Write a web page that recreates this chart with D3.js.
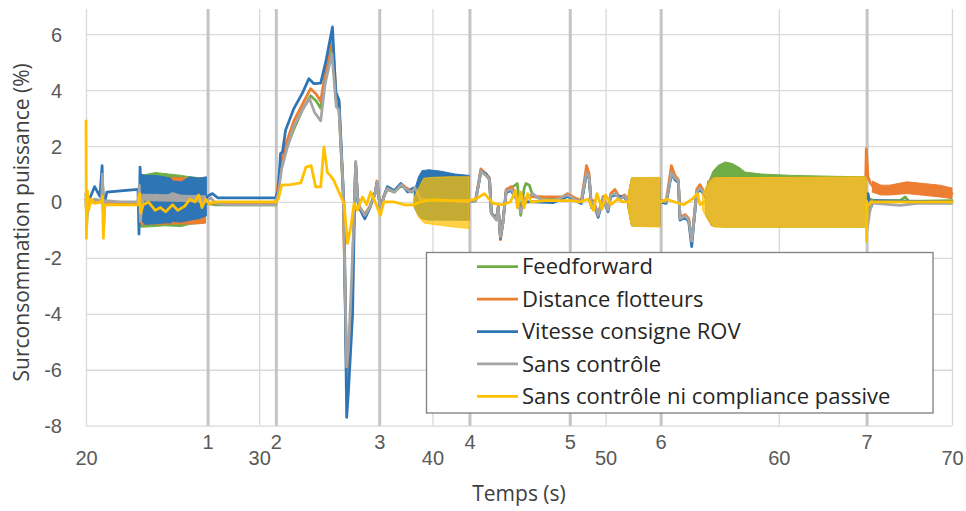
<!DOCTYPE html>
<html><head><meta charset="utf-8">
<script src="https://cdn.jsdelivr.net/npm/d3@7"></script>
<style>
html,body{margin:0;padding:0;background:#fff;}
svg{display:block;font-family:"Open Sans","Noto Sans",sans-serif;}
</style></head>
<body>
<svg id="chart" width="966" height="511"></svg>
<script>
// ---------- data ----------
const xTicks = [20, 30, 40, 50, 60, 70];
const yTicks = [-8, -6, -4, -2, 0, 2, 4, 6];
const eventTimes = [27.02, 30.96, 36.93, 42.14, 47.93, 53.18, 65.07];
const eventLabels = ["1", "2", "3", "4", "5", "6", "7"];
const seriesNames = ["Feedforward", "Distance flotteurs", "Vitesse consigne ROV", "Sans contrôle", "Sans contrôle ni compliance passive"];
const seriesColors = ["#70ad47", "#ed7d31", "#2e75b6", "#a5a5a5", "#ffc000"];

// Feedforward
const ffLine = [[20,0.3],[20.04,-0.9],[20.1,0.2],[20.3,0.0],[20.9,0.0],[20.95,0.8],[21.02,-0.4],[21.1,0.0],[23.0,-0.05],[23.08,0.4],[23.14,-0.4],[23.3,0.0],[26.95,-0.05],[27.5,-0.1],[30.95,-0.1],[31.2,1.0],[31.5,1.8],[32.0,2.6],[32.5,3.3],[32.97,3.8],[33.3,3.6],[33.55,3.35],[33.84,4.5],[34.2,5.6],[34.45,3.6],[34.6,3.4],[34.85,0.3],[35.05,-6.0],[35.2,-5.0],[35.35,-3.4],[35.48,-0.4],[35.57,1.4],[35.67,0.2],[35.8,-0.2],[36.1,-0.45],[36.4,-0.15],[36.7,0.3],[36.8,0.7],[37.0,-0.25],[37.2,0.2],[37.4,0.45],[37.8,0.35],[38.2,0.6],[38.5,0.45],[38.8,0.35],[39.0,0.45],[39.3,0.1],[42.1,0.0],[42.5,0.05],[42.8,1.1],[43.1,0.95],[43.3,0.8],[43.4,-0.4],[43.7,-0.6],[43.8,-0.2],[43.93,-1.2],[44.07,-0.7],[44.26,0.4],[44.55,0.5],[44.9,0.66],[45.0,0.1],[45.1,-0.48],[45.3,0.5],[45.4,0.66],[45.6,0.6],[45.8,0.2],[46.5,0.1],[47.5,0.1],[47.8,0.25],[48.2,0.1],[48.6,0.0],[48.9,1.05],[49.05,0.9],[49.18,-0.18],[49.3,0.0],[49.57,-0.45],[49.86,0.15],[50.14,-0.3],[50.3,0.25],[50.6,0.3],[50.8,0.1],[51.1,0.2],[51.3,0.0],[53.14,0.0],[53.5,0.0],[53.8,1.05],[54.0,0.85],[54.2,0.75],[54.3,-0.6],[54.6,-0.5],[54.8,-0.65],[54.97,-1.4],[55.07,-0.85],[55.26,0.35],[55.45,0.5],[55.65,0.35],[55.84,0.3],[55.94,0.72],[56.1,0.0],[65.0,0.0],[65.1,-0.5],[65.25,0.1],[65.5,0.05],[67,0.05],[67.3,0.18],[67.5,0.02],[70,0.05]];
const ffBand = [
  [[23.15,-0.9,0.95],[24,-0.88,1.05],[24.5,-0.85,1.02],[25.5,-0.88,0.95],[26,-0.8,0.9],[26.9,-0.75,0.85]],
  [[39.0,-0.2,0.3],[39.4,-0.6,1.0],[42.1,-0.65,0.9]],
  [[51.3,-0.2,0.2],[51.5,-0.85,0.85],[53.14,-0.85,0.85]],
  [[55.8,-0.3,0.5],[55.94,-0.6,0.72],[56.2,-0.8,1.1],[56.5,-0.88,1.31],[56.9,-0.9,1.43],[57.3,-0.9,1.38],[57.68,-0.9,1.25],[58.06,-0.9,1.07],[59,-0.9,1.0],[60.76,-0.9,0.95],[63,-0.9,0.92],[65.05,-0.9,0.9]]
];

// Distance flotteurs
const dfLine = [[20,0.1],[20.04,-0.5],[20.1,0.2],[20.3,0.0],[20.9,0.0],[20.95,0.9],[21.02,-0.5],[21.1,0.0],[23.0,-0.05],[23.08,0.5],[23.14,-0.5],[23.3,0.0],[25,0.0],[26.95,-0.05],[27.5,-0.05],[30.95,-0.05],[31.2,1.2],[31.5,2.0],[32.0,2.9],[32.5,3.5],[32.97,4.05],[33.3,3.85],[33.55,3.6],[33.84,4.7],[34.2,6.0],[34.45,3.8],[34.6,3.6],[34.85,0.3],[35.05,-6.5],[35.2,-5.0],[35.35,-3.5],[35.48,-0.4],[35.57,1.4],[35.67,0.2],[35.8,-0.2],[36.1,-0.45],[36.4,-0.15],[36.7,0.35],[36.8,0.75],[37.0,-0.25],[37.2,0.2],[37.4,0.5],[37.8,0.4],[38.2,0.65],[38.5,0.5],[38.8,0.4],[39.0,0.5],[39.3,0.1],[42.1,0.0],[42.5,0.1],[42.8,1.18],[43.1,1.0],[43.3,0.85],[43.4,-0.4],[43.7,-0.6],[43.8,-0.15],[43.93,-1.35],[44.07,-0.75],[44.26,0.45],[44.55,0.55],[44.9,0.2],[45.1,-0.3],[45.4,0.15],[45.8,0.2],[46.5,0.18],[47.5,0.18],[47.8,0.3],[48.2,0.15],[48.6,0.05],[48.9,1.3],[49.05,1.0],[49.18,-0.15],[49.3,0.05],[49.57,-0.45],[49.86,0.2],[50.14,-0.25],[50.3,0.3],[50.54,0.45],[50.8,0.15],[51.1,0.25],[51.3,0.0],[53.14,0.0],[53.5,0.05],[53.8,1.3],[54.0,0.95],[54.2,0.8],[54.3,-0.55],[54.6,-0.45],[54.8,-0.6],[54.97,-1.35],[55.07,-0.8],[55.26,0.45],[55.45,0.62],[55.65,0.4],[55.84,0.25],[56.0,0.0],[65.0,0.2],[65.05,1.9],[65.15,0.9],[65.3,0.66],[65.5,0.5],[66,0.42],[67,0.5],[68,0.45],[69,0.4],[70,0.3]];
const dfBand = [
  [[23.15,-0.8,0.9],[26.5,-0.78,0.85],[26.9,-0.75,0.8]],
  [[39.0,-0.2,0.3],[39.4,-0.6,1.0],[42.1,-0.65,0.9]],
  [[51.3,-0.2,0.2],[51.5,-0.85,0.85],[53.14,-0.85,0.85]],
  [[55.8,-0.4,0.5],[56.1,-0.85,0.85],[65.05,-0.88,0.88]],
  [[65.4,0.35,0.75],[65.9,0.25,0.6],[66.4,0.25,0.6],[67.4,0.3,0.72],[68.35,0.24,0.66],[69.3,0.18,0.6],[70,0.12,0.5]]
];

// Vitesse consigne ROV
const vcLine = [[20,0.25],[20.2,0.1],[20.5,0.55],[20.8,0.2],[20.93,1.3],[21.0,-0.3],[21.2,0.35],[22,0.4],[23.0,0.45],[23.06,-1.15],[23.12,1.25],[23.2,0.3],[24,0.1],[25,0.05],[26,0.1],[26.95,0.1],[27.0,0.2],[27.3,0.3],[27.6,0.15],[30.95,0.15],[31.1,0.4],[31.23,1.73],[31.35,1.8],[31.52,2.56],[32.0,3.34],[32.5,3.9],[32.87,4.41],[33.16,4.23],[33.55,4.25],[33.84,5.0],[34.23,6.26],[34.42,3.93],[34.61,3.64],[34.9,-0.18],[35.05,-7.7],[35.15,-6.8],[35.39,-4.05],[35.5,-0.3],[35.57,1.3],[35.7,0.0],[35.85,-0.3],[36.1,-0.6],[36.4,-0.2],[36.7,0.35],[36.8,0.7],[37.0,-0.3],[37.2,0.2],[37.4,0.55],[37.8,0.4],[38.18,0.66],[38.57,0.36],[38.9,0.5],[39.3,0.2],[40,0.1],[42.1,0.0],[42.5,0.05],[42.8,1.1],[43.1,1.0],[43.3,0.8],[43.4,-0.4],[43.7,-0.6],[43.8,-0.2],[43.93,-1.3],[44.07,-0.75],[44.26,0.35],[44.55,0.4],[44.9,0.05],[45.1,-0.3],[45.4,0.0],[45.8,0.0],[47,-0.02],[47.8,0.2],[48.2,0.05],[48.6,-0.05],[48.9,1.0],[49.05,0.85],[49.18,-0.2],[49.3,-0.05],[49.57,-0.55],[49.86,0.1],[50.14,-0.35],[50.3,0.2],[50.6,0.25],[51.1,0.15],[51.3,0.0],[53.14,0.0],[53.5,-0.05],[53.8,1.0],[54.0,0.8],[54.2,0.7],[54.3,-0.65],[54.6,-0.55],[54.8,-0.7],[54.97,-1.6],[55.07,-0.9],[55.26,0.3],[55.45,0.45],[55.65,0.3],[55.84,0.1],[55.9,-0.3],[56.0,0.3],[56.1,0.0],[65.0,0.0],[65.15,0.3],[65.3,-0.2],[65.5,0.05],[70,0.0]];
const vcBand = [
  [[23.15,-0.6,1.0],[23.4,-0.8,0.95],[24,-0.78,0.95],[24.5,-0.75,0.9],[24.9,-0.75,0.85],[25.0,-0.7,0.75],[25.5,-0.72,0.72],[26.0,-0.65,0.9],[26.5,-0.6,0.85],[26.95,-0.5,0.9]],
  [[38.95,-0.2,0.4],[39.2,-0.5,0.9],[39.4,-0.6,1.12],[39.8,-0.65,1.15],[40.5,-0.65,1.1],[41.3,-0.65,1.0],[42.12,-0.65,0.95]],
  [[51.3,-0.2,0.2],[51.5,-0.85,0.85],[53.14,-0.86,0.86]],
  [[55.8,-0.5,0.4],[56.1,-0.8,0.8],[65.05,-0.88,0.88]]
];

// Sans contrôle
const scLine = [[20,0.1],[20.04,-0.7],[20.1,0.25],[20.25,0.0],[20.5,0.1],[20.9,0.05],[20.95,1.0],[21.02,-0.9],[21.1,0.05],[22,0.0],[23.0,0.0],[23.08,0.6],[23.14,-0.7],[23.3,0.15],[23.6,0.2],[24,0.25],[24.5,0.15],[25,0.3],[25.5,0.2],[26,0.15],[26.5,0.05],[26.9,0.0],[27.2,0.15],[27.5,-0.05],[28,-0.1],[30.9,-0.1],[31.1,0.3],[31.3,1.2],[31.6,1.9],[32.0,2.7],[32.5,3.3],[32.9,3.7],[33.2,3.2],[33.55,2.9],[33.8,4.2],[34.2,5.3],[34.45,3.4],[34.6,3.3],[34.85,0.5],[35.05,-5.9],[35.15,-5.3],[35.3,-3.3],[35.48,-0.4],[35.57,1.45],[35.67,0.18],[35.8,-0.18],[36.1,-0.48],[36.4,-0.18],[36.7,0.3],[36.8,0.72],[37.0,-0.3],[37.2,0.18],[37.4,0.48],[37.8,0.36],[38.2,0.62],[38.5,0.45],[38.8,0.36],[39.0,0.5],[39.3,0.1],[40,0.05],[41,0.05],[42.1,0.0],[42.5,0.06],[42.8,1.1],[43.1,0.95],[43.3,0.8],[43.4,-0.42],[43.7,-0.65],[43.8,-0.2],[43.93,-1.25],[44.07,-0.77],[44.26,0.4],[44.55,0.45],[44.9,0.1],[45.1,-0.36],[45.4,0.1],[45.8,0.3],[46.2,0.1],[47.0,0.05],[47.8,0.25],[48.2,0.1],[48.6,0.0],[48.9,1.05],[49.05,0.9],[49.18,-0.18],[49.3,0.0],[49.57,-0.48],[49.86,0.15],[50.14,-0.3],[50.3,0.25],[50.6,0.3],[50.8,0.1],[51.1,0.2],[51.3,0.0],[53.14,0.0],[53.24,0.06],[53.5,0.0],[53.8,1.05],[54.0,0.85],[54.2,0.75],[54.3,-0.6],[54.6,-0.5],[54.8,-0.65],[54.97,-1.4],[55.07,-0.85],[55.26,0.35],[55.45,0.5],[55.65,0.35],[55.84,0.2],[56,0.0],[65.0,0.0],[65.1,-1.0],[65.25,-0.36],[65.4,0.0],[65.6,-0.05],[67,-0.12],[68,-0.05],[70,-0.05]];
const scBand = [
  [[23.2,0.05,0.28],[26.9,0.0,0.22]],
  [[51.3,-0.2,0.2],[51.5,-0.85,0.85],[53.14,-0.88,0.87]],
  [[55.8,-0.4,0.4],[56.2,-0.88,0.86],[65.05,-0.88,0.88]]
];

// Sans contrôle ni compliance passive (null = gap in the line, where the band stands for it)
const ncLine = [[20,2.9],[20.02,-1.3],[20.08,0.4],[20.15,-0.3],[20.3,0.1],[20.5,-0.05],[20.9,0.0],[20.95,0.2],[21.0,-1.3],[21.08,-0.1],[22,-0.1],[23.0,-0.1],[23.1,0.3],[23.15,-0.4],[23.3,-0.1],[23.6,0.0],[24.0,-0.3],[24.3,-0.2],[24.6,-0.35],[25.0,-0.1],[25.3,-0.3],[25.7,-0.15],[26.0,0.1],[26.3,0.0],[26.5,0.25],[26.7,-0.2],[26.9,0.1],[27.1,-0.05],[27.5,0.0],[30.95,0.0],[31.1,0.1],[31.3,0.6],[31.8,0.62],[32.4,0.68],[32.7,1.25],[33.0,1.3],[33.26,0.54],[33.55,0.54],[33.74,1.97],[33.94,1.05],[34.1,0.95],[34.3,0.78],[34.6,0.36],[34.9,-0.05],[35.1,-1.48],[35.29,-0.89],[35.48,-0.05],[35.67,-0.3],[35.96,0.18],[36.2,-0.1],[36.44,0.36],[36.73,-0.05],[37.0,-0.48],[37.2,0.0],[37.8,0.0],[38.37,-0.1],[38.9,-0.1],[39.3,0.0],[40,0.08],[41,0.05],[42.1,0.05],[42.5,0.1],[43.0,0.3],[43.5,-0.05],[44,-0.1],[44.5,0.0],[44.8,0.4],[44.9,-0.2],[45.1,0.35],[45.3,-0.2],[45.5,0.3],[45.7,0.0],[46.5,0.05],[48,0.05],[48.5,0.0],[49,0.1],[49.3,-0.3],[49.5,0.3],[49.8,-0.25],[50.0,0.25],[50.3,-0.1],[50.7,0.1],[51.0,0.0],[51.35,0.0],[51.4,null],[53.1,null],[53.2,0.0],[53.5,0.1],[54,0.0],[54.5,-0.1],[55.0,0.1],[55.3,0.3],[55.45,-0.1],[55.7,0.0],[55.75,null],[65.0,null],[65.05,0.0],[65.07,-1.4],[65.1,-0.2],[65.3,0.0],[70,0.0]];
const ncBand = [
  [[38.9,-0.1,0.1],[39.2,-0.55,0.5],[39.5,-0.75,0.85],[40,-0.8,0.88],[41,-0.88,0.9],[42.12,-0.95,0.9]],
  [[51.3,-0.3,0.3],[51.5,-0.87,0.87],[53.14,-0.9,0.88]],
  [[55.6,-0.3,0.3],[56.0,-0.75,0.75],[56.3,-0.9,0.87],[60,-0.9,0.88],[65.05,-0.9,0.9]]
];

const lines = [ffLine, dfLine, vcLine, scLine, ncLine];
const bands = [ffBand, dfBand, vcBand, scBand, ncBand];

// ---------- chart ----------
(function () {
const svg = d3.select("#chart");
const pLeft = 86, pRight = 952, pTop = 9, pBottom = 425.7;
const x = d3.scaleLinear().domain([20, 70]).range([pLeft, pRight]);
const y = d3.scaleLinear().domain([-8, 6.9]).range([pBottom, pTop]);

// horizontal gridlines + y labels
const gy = svg.append("g").attr("transform", `translate(${pLeft},0)`)
  .call(d3.axisLeft(y).tickValues(yTicks).tickSize(-(pRight - pLeft)).tickPadding(24).tickFormat(d => d));
gy.select(".domain").remove();
gy.selectAll("line").attr("stroke", "#d9d9d9").attr("stroke-width", 1.3);
gy.selectAll("text").attr("fill", "#595959").attr("font-size", 20).attr("dy", "0.35em");

// vertical gridlines + x labels
const gx = svg.append("g").attr("transform", `translate(0,${pBottom})`)
  .call(d3.axisBottom(x).tickValues(xTicks).tickSize(-(pBottom - pTop)).tickPadding(0).tickFormat(d => d));
gx.select(".domain").remove();
gx.selectAll("line").attr("stroke", "#d9d9d9").attr("stroke-width", 1.3);
gx.selectAll("text").attr("fill", "#595959").attr("font-size", 20).attr("dy", null).attr("y", 39.5);

// event lines + labels
const ge = svg.append("g").attr("transform", `translate(0,${pBottom})`)
  .call(d3.axisBottom(x).tickValues(eventTimes).tickSize(-(pBottom - pTop)).tickPadding(0).tickFormat((d, i) => eventLabels[i]));
ge.select(".domain").remove();
ge.selectAll("line").attr("stroke", "#c4c4c4").attr("stroke-width", 3);
ge.selectAll("text").attr("fill", "#595959").attr("font-size", 20).attr("dy", null).attr("y", 23.5);

// series
const lineGen = d3.line().defined(d => d[1] !== null).x(d => x(d[0])).y(d => y(d[1]));
const areaGen = d3.area().x(d => x(d[0])).y0(d => y(d[1])).y1(d => y(d[2]));
const gs = svg.append("g");
seriesNames.forEach((name, i) => {
  const g = gs.append("g");
  g.selectAll("path.band").data(bands[i]).enter().append("path")
    .attr("class", "band").attr("d", areaGen)
    .attr("fill", seriesColors[i]).attr("fill-opacity", i === 4 ? 0.72 : 1)
    .attr("stroke", seriesColors[i]).attr("stroke-opacity", i === 4 ? 0.72 : 1).attr("stroke-width", 1);
  g.append("path").datum(lines[i]).attr("d", lineGen)
    .attr("fill", "none").attr("stroke", seriesColors[i])
    .attr("stroke-width", 2.75).attr("stroke-linejoin", "round").attr("stroke-linecap", "round");
});

// axis titles
svg.append("text").attr("x", (pLeft + pRight) / 2).attr("y", 501).attr("text-anchor", "middle")
  .attr("font-size", 21).attr("fill", "#404040").text("Temps (s)");
svg.append("text").attr("transform", `translate(29,${(pTop + pBottom) / 2 + 5}) rotate(-90)`)
  .attr("text-anchor", "middle").attr("font-size", 21).attr("fill", "#404040").text("Surconsommation puissance (%)");

// legend
const lg = svg.append("g");
lg.append("rect").attr("x", 426.5).attr("y", 252.5).attr("width", 506.5).attr("height", 160.5)
  .attr("fill", "#fff").attr("stroke", "#7f7f7f").attr("stroke-width", 1.3);
const rowY = d3.scaleBand().domain(seriesNames).range([251, 413]);
const rows = lg.selectAll("g.row").data(seriesNames).enter().append("g").attr("class", "row")
  .attr("transform", d => `translate(0,${rowY(d) + rowY.bandwidth() / 2 - 0.5})`);
rows.append("line").attr("x1", 477).attr("x2", 518).attr("y1", 0).attr("y2", 0)
  .attr("stroke", (d, i) => seriesColors[i]).attr("stroke-width", 2.75);
rows.append("text").attr("x", 522).attr("y", 0).attr("dy", "0.35em").attr("font-size", 22)
  .attr("fill", "#262626").text(d => d);
})();
</script>
</body></html>
